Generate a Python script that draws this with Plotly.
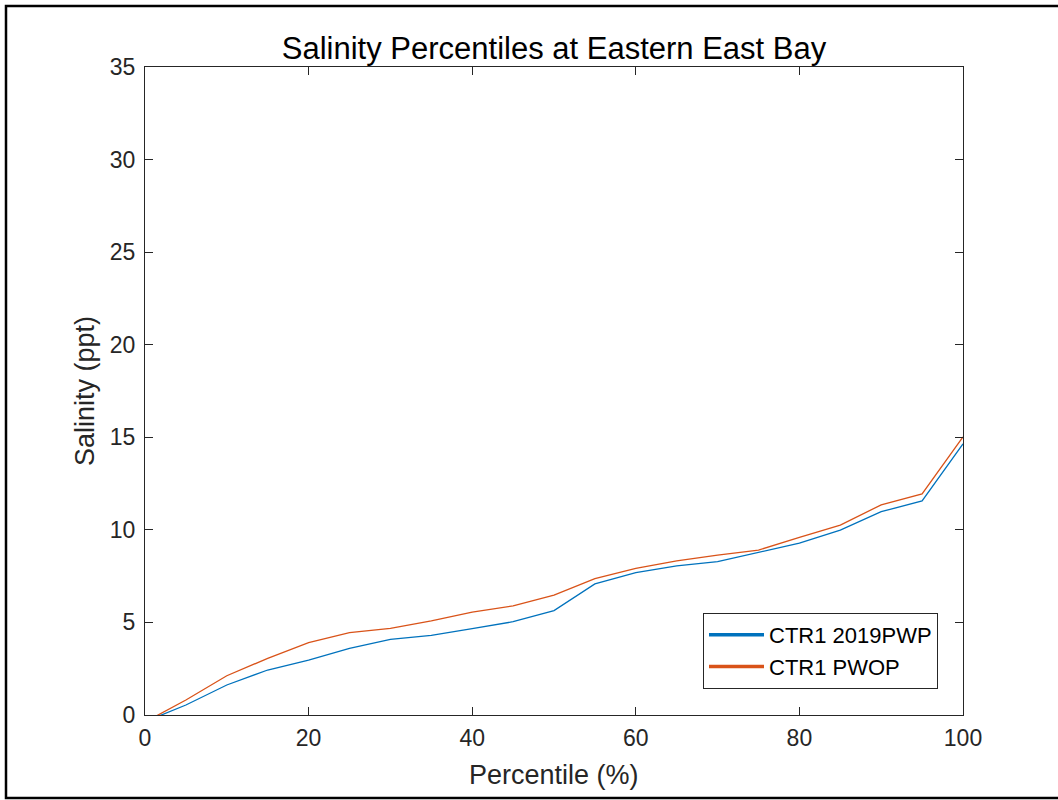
import plotly.graph_objects as go

percentile = [0, 5, 10, 15, 20, 25, 30, 35, 40, 45, 50, 55, 60, 65, 70, 75, 80, 85, 90, 95, 100]
ctr1_2019pwp = [-0.36, 0.54, 1.62, 2.43, 2.97, 3.60, 4.09, 4.30, 4.66, 5.04, 5.64, 7.08, 7.69, 8.05,
                8.28, 8.77, 9.28, 9.99, 10.98, 11.56, 14.65]
ctr1_pwop = [-0.38, 0.81, 2.12, 3.06, 3.91, 4.45, 4.68, 5.08, 5.56, 5.89, 6.48, 7.37, 7.92, 8.32,
             8.64, 8.91, 9.60, 10.26, 11.35, 11.94, 15.02]
series_names = ["CTR1 2019PWP", "CTR1 PWOP"]
colors = ["#0072BD", "#D95319"]
x_ticks = [0, 20, 40, 60, 80, 100]
y_ticks = [0, 5, 10, 15, 20, 25, 30, 35]

FONT = "Liberation Sans, Arial, Helvetica, sans-serif"
AX = "#262626"

W, H = 1058, 800
L, R, T, B = 145, 1058 - 963, 67, 800 - 715
pw, ph = W - L - R, H - T - B


def px(xs):
    """screen x pixel -> paper coordinate"""
    return (xs - L) / pw


def py(ys):
    """screen y pixel -> paper coordinate"""
    return (H - B - ys) / ph


fig = go.Figure()
for name, ys, c in zip(series_names, [ctr1_2019pwp, ctr1_pwop], colors):
    fig.add_trace(go.Scatter(x=percentile, y=ys, mode="lines", name=name,
                             line=dict(color=c, width=1.3), showlegend=False))
for name, c in zip(series_names, colors):
    fig.add_trace(go.Scatter(x=[None], y=[None], mode="lines", name=name,
                             line=dict(color=c, width=3.5), showlegend=True))

axis_common = dict(showgrid=False, zeroline=False, showline=True, linecolor=AX, linewidth=1,
                   mirror="ticks", ticks="inside", ticklen=8, tickcolor=AX, tickwidth=1,
                   tickfont=dict(family=FONT, size=23, color=AX))

fig.update_xaxes(range=[0, 100], tickvals=x_ticks, ticklabelstandoff=2, **axis_common)
fig.update_yaxes(range=[0, 35], tickvals=y_ticks, ticklabelstandoff=4, **axis_common)

frame_line = dict(color="#000000", width=2.5)
# open frame: top, left and bottom edges (the right edge lies outside the window)
frame_path = "M {x1},{y0} L {x0},{y0} L {x0},{y1} L {x1},{y1}".format(
    x0=px(6), x1=px(1075), y0=py(6), y1=py(798))
fig.update_layout(
    width=W, height=H,
    margin=dict(l=L, r=R, t=T, b=B, autoexpand=False),
    paper_bgcolor="white", plot_bgcolor="white",
    font=dict(family=FONT, color=AX),
    title=dict(text="Salinity Percentiles at Eastern East Bay", x=0.5, xanchor="center",
               xref="paper", y=1 - 48 / H, yanchor="middle",
               font=dict(family=FONT, size=31, color="#000000")),
    legend=dict(x=px(938), xanchor="right", y=py(689), yanchor="bottom",
                bgcolor="white", bordercolor=AX, borderwidth=1,
                font=dict(family=FONT, size=22, color="#000000"),
                itemwidth=55, tracegroupgap=0),
    annotations=[
        dict(text="Percentile (%)", xref="paper", yref="paper", x=0.5, y=py(775),
             xanchor="center", yanchor="middle", showarrow=False,
             font=dict(family=FONT, size=27, color=AX)),
        dict(text="Salinity (ppt)", xref="paper", yref="paper", x=px(85), y=0.5,
             xanchor="center", yanchor="middle", showarrow=False, textangle=-90,
             font=dict(family=FONT, size=27, color=AX)),
    ],
    shapes=[dict(type="path", xref="paper", yref="paper", path=frame_path,
                 line=frame_line, fillcolor="rgba(0,0,0,0)", layer="below")],
)

fig.write_html(
    "out.html",
    config={"displayModeBar": False},
    post_script=("document.body.style.margin='0';document.body.style.overflow='hidden';"
                 "document.documentElement.style.overflow='hidden';"),
)
